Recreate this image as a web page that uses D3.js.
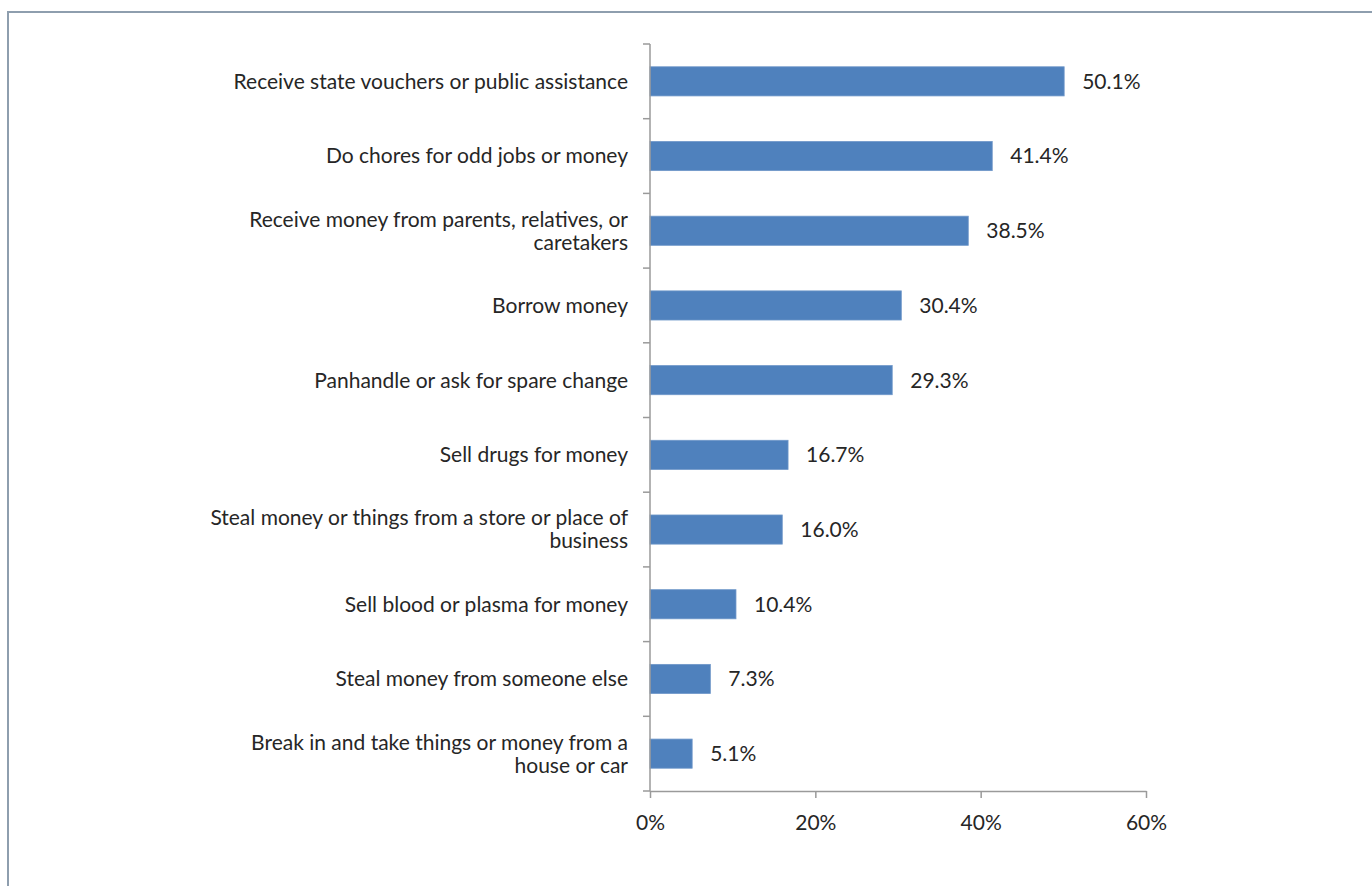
<!DOCTYPE html>
<html>
<head>
<meta charset="utf-8">
<script src="https://cdn.jsdelivr.net/npm/d3@7"></script>
<style>
  html, body { margin: 0; padding: 0; background: #fff; }
  svg { display: block; }
  text { font-family: Lato, "Open Sans", sans-serif; fill: #262626; }
</style>
</head>
<body>
<svg id="chart" width="1372" height="886"></svg>
<script>
// ---- data ----
const categories = [
  "Receive state vouchers or public assistance",
  "Do chores for odd jobs or money",
  "Receive money from parents, relatives, or\ncaretakers",
  "Borrow money",
  "Panhandle or ask for spare change",
  "Sell drugs for money",
  "Steal money or things from a store or place of\nbusiness",
  "Sell blood or plasma for money",
  "Steal money from someone else",
  "Break in and take things or money from a\nhouse or car"
];
const values = [50.1, 41.4, 38.5, 30.4, 29.3, 16.7, 16.0, 10.4, 7.3, 5.1];
const xTicks = [0, 20, 40, 60];

// ---- layout ----
const W = 1372, H = 886;
const plot = { left: 650, right: 1146, top: 44, bottom: 791 };
const fontSize = 21;
const svg = d3.select("#chart");

// outer border (only top/left visible, extends beyond frame)
svg.append("rect")
  .attr("x", 8).attr("y", 12)
  .attr("width", W + 20).attr("height", H + 20)
  .attr("fill", "none").attr("stroke", "#8e9eae").attr("stroke-width", 2);

const x = d3.scaleLinear().domain([0, 60]).range([plot.left, plot.right]);
const y = d3.scaleBand().domain(categories).range([plot.top, plot.bottom]).paddingInner(0.61).paddingOuter(0.305);

const axisColor = "#9a9a9a";

// bars
svg.append("g").selectAll("rect")
  .data(categories)
  .join("rect")
  .attr("x", x(0))
  .attr("y", d => y(d))
  .attr("width", (d, i) => x(values[i]) - x(0))
  .attr("height", y.bandwidth())
  .attr("fill", "#4f81bd")
  .attr("stroke", "#6f97c9")
  .attr("stroke-width", 0.8);

// value labels
svg.append("g").selectAll("text")
  .data(categories)
  .join("text")
  .attr("x", (d, i) => x(values[i]) + 18)
  .attr("y", d => y(d) + y.bandwidth() / 2)
  .attr("dy", "0.35em")
  .attr("font-size", fontSize)
  .text((d, i) => values[i].toFixed(1) + "%");

// y axis line and ticks (at band boundaries)
const step = (plot.bottom - plot.top) / categories.length;
const gy = svg.append("g");
gy.append("line")
  .attr("x1", plot.left).attr("x2", plot.left)
  .attr("y1", plot.top).attr("y2", plot.bottom)
  .attr("stroke", axisColor).attr("stroke-width", 1.5);
gy.selectAll("line.tick")
  .data(d3.range(categories.length + 1))
  .join("line")
  .attr("class", "tick")
  .attr("x1", plot.left - 7).attr("x2", plot.left)
  .attr("y1", i => plot.top + i * step).attr("y2", i => plot.top + i * step)
  .attr("stroke", axisColor).attr("stroke-width", 1.5);

// category labels
const lineH = 23;
gy.selectAll("text")
  .data(categories)
  .join("text")
  .attr("text-anchor", "end")
  .attr("font-size", fontSize)
  .each(function(d) {
    const lines = d.split("\n");
    const cy = y(d) + y.bandwidth() / 2;
    const t = d3.select(this);
    lines.forEach((ln, k) => {
      t.append("tspan")
        .attr("x", 628)
        .attr("y", cy + (k - (lines.length - 1) / 2) * lineH)
        .attr("dy", "0.35em")
        .text(ln);
    });
  });

// x axis
const xAxis = d3.axisBottom(x)
  .tickValues(xTicks)
  .tickFormat(d => d + "%")
  .tickSize(7)
  .tickSizeOuter(0);
const gx = svg.append("g").attr("transform", `translate(0,${plot.bottom})`).call(xAxis);
gx.select(".domain").attr("stroke", axisColor).attr("stroke-width", 1.5);
gx.selectAll(".tick line").attr("stroke", axisColor).attr("stroke-width", 1.5);
gx.selectAll(".tick text")
  .attr("font-size", fontSize)
  .attr("font-family", "Lato, 'Open Sans', sans-serif")
  .attr("fill", "#262626")
  .attr("y", 24);
</script>
</body>
</html>
